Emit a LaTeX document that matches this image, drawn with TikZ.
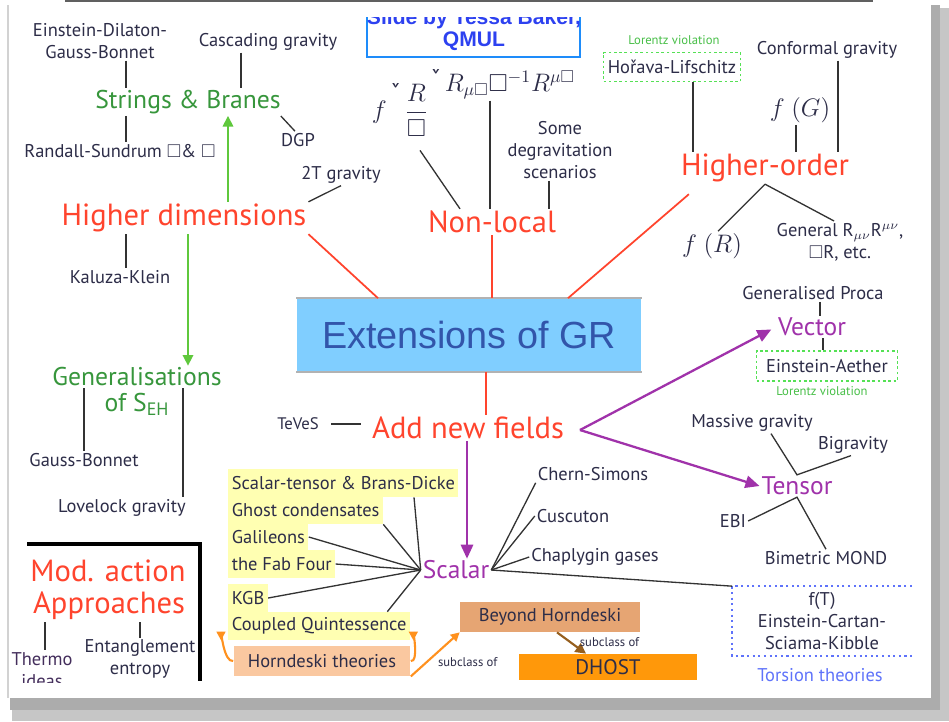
\documentclass[tikz,border=0pt]{standalone}
\usepackage{amsmath,amssymb}
\usepackage{fontspec}
\setmainfont{PT Sans}
\newfontfamily\arialfont{Liberation Sans}
\usetikzlibrary{arrows.meta,calc}

\definecolor{inktext}{RGB}{45,45,72}
\definecolor{catred}{RGB}{255,68,45}
\definecolor{catgreen}{RGB}{55,150,60}
\definecolor{arrowgreen}{RGB}{95,200,60}
\definecolor{lvgreen}{RGB}{85,225,85}
\definecolor{catpurple}{RGB}{160,50,170}
\definecolor{grbox}{RGB}{128,206,255}
\definecolor{grtext}{RGB}{50,85,170}
\definecolor{hlyellow}{RGB}{255,255,178}
\definecolor{hornpeach}{RGB}{250,200,160}
\definecolor{beyondtan}{RGB}{230,165,115}
\definecolor{dhostorange}{RGB}{255,152,10}
\definecolor{horngold}{RGB}{255,145,30}
\definecolor{dhostbrown}{RGB}{150,95,30}
\definecolor{slideblue}{RGB}{30,140,250}
\definecolor{creditblue}{RGB}{45,65,240}
\definecolor{torsblue}{RGB}{95,115,250}

\begin{document}
\begin{tikzpicture}[x=0.02cm,y=-0.02cm,
  small/.style={font=\fontsize{10.5}{12.5}\selectfont,text=inktext,inner sep=1pt,align=center},
  tiny/.style={font=\fontsize{7.2}{8.5}\selectfont,inner sep=1pt},
  redcat/.style={font=\fontsize{17.4}{20}\selectfont,text=catred,inner sep=1pt},
  greencat/.style={font=\fontsize{14.6}{17}\selectfont,text=catgreen,inner sep=1pt},
  purplecat/.style={font=\fontsize{14.5}{17}\selectfont,text=catpurple,inner sep=1pt},
  mathlabel/.style={font=\fontsize{14}{16}\selectfont,text=inktext,inner sep=1pt},
  hilite/.style={small,anchor=west,fill=hlyellow,minimum height=0.56cm,inner xsep=2pt},
  lvbox/.style={small,draw=lvgreen,line width=1pt,dash pattern=on 1.5pt off 1.5pt},
  link/.style={draw=black!80,line width=0.75pt},
  redlink/.style={draw=catred,line width=1pt},
  greenarrow/.style={draw=arrowgreen,line width=0.9pt,-{Triangle[length=6pt,width=6pt]}},
  purplearrow/.style={draw=catpurple,line width=1.3pt,-{Triangle[length=8pt,width=7pt]}},
  hornarrow/.style={draw=horngold,line width=1.2pt,-{Triangle[length=5pt,width=5pt]}},
]
\useasboundingbox (0,0) rectangle (949,721);
\fill[white] (0,0) rectangle (949,721);
\fill[gray!45] (12,8) rectangle (949,721);
\fill[gray!65] (10,5) rectangle (940,710);
\fill[white] (8,3) rectangle (931,698);
\draw[gray!35,line width=1pt] (8,5) -- (8,698);
\draw[gray!75!black,line width=1.2pt] (65,1) -- (873,1);

\begin{scope}
\clip (0,17) rectangle (949,682);

% credit box
\draw[slideblue,line width=1.6pt] (367,10) -- (367,57) -- (580,57) -- (580,10);
\node[font=\arialfont\bfseries\fontsize{12}{13}\selectfont,text=creditblue,align=center] (credit) at (474,30) {Slide by Tessa Baker,\\QMUL};

% higher dimensions
\node[small] (edgb) at (100,41) {Einstein-Dilaton-\\Gauss-Bonnet};
\node[small] (cascade) at (268,42) {Cascading gravity};
\node[greencat] (strings) at (188,102) {Strings \& Branes};
\node[small] (randall) at (120,151) {Randall-Sundrum $\square$\& $\square$};
\node[small] (dgp) at (298,140) {DGP};
\node[small] (twoT) at (341,175) {2T gravity};
\node[redcat] (higherdim) at (184,218) {Higher dimensions};
\node[small] (kaluza) at (120,277) {Kaluza-Klein};
\node[greencat] (gen) at (137,377) {Generalisations};
\node[greencat] (genof) at (137,404) {of S\textsubscript{EH}};
\node[small] (gauss) at (84,460) {Gauss-Bonnet};
\node[small] (lovelock) at (122,508) {Lovelock gravity};
\draw[link] (126,0 |- edgb.south) -- (126,0 |- strings.north);
\draw[link] (241,0 |- cascade.south) -- (241,0 |- strings.north);
\draw[link] (126,0 |- strings.south) -- (126,0 |- randall.north);
\draw[link] ($(strings.south east)+(-2,0)$) -- ($(dgp.north)+(-3,0)$);
\draw[link] (twoT.south) -- (higherdim.north east);
\draw[link] (126,0 |- higherdim.south) -- (126,0 |- kaluza.north);
\draw[greenarrow] (228,0 |- higherdim.north) -- (228,0 |- strings.south);
\draw[greenarrow] (188,0 |- higherdim.south) -- (188,0 |- gen.north);
\draw[link] (84,0 |- gen.south) -- (84,0 |- gauss.north);
\draw[link] (183,0 |- gen.south) -- (183,0 |- lovelock.north);

% non-local
\node[mathlabel] (nlfrac) at (400,110) {$f$\raisebox{1.4ex}{\,ˇ\,}$\dfrac{R}{\square}$};
\node[mathlabel] (nlrest) at (503,84) {\raisebox{0.3ex}{ˇ}\,$R_{\mu\square}\square^{-1}R^{\mu\square}$};
\node[small] (degrav) at (560,150) {Some\\degravitation\\scenarios};
\node[redcat] (nonlocal) at (492,222) {Non-local};
\draw[link] ($(nlfrac.south)+(20,12)$) -- ($(nonlocal.north)+(-32,0)$);
\draw[link] (490,0 |- nlrest.south) -- (490,0 |- nonlocal.north);
\draw[link] (549,0 |- degrav.south) -- (549,0 |- nonlocal.north);

% higher-order
\node[tiny,text=lvgreen!85!black] (lvtop) at (674,40) {Lorentz violation};
\node[lvbox,minimum width=2.74cm,minimum height=0.58cm] (horava) at (672,67) {Hořava-Lifschitz};
\node[small] (conformal) at (827,50) {Conformal gravity};
\node[mathlabel] (fG) at (800,110) {$f\ (G)$};
\node[redcat] (higherorder) at (765,168) {Higher-order};
\node[mathlabel] (fR) at (712,246) {$f\ (R)$};
\node[small] (general) at (840,242) {General R$_{\mu\nu}$R$^{\mu\nu}$,\\$\square$R, etc.};
\draw[link] (693,0 |- horava.south) -- (693,0 |- higherorder.north);
\draw[link] (796,0 |- fG.south) -- (796,0 |- higherorder.north);
\draw[link] (838,0 |- conformal.south) -- (838,0 |- higherorder.north);
\draw[link] (higherorder.south) -- ($(fR.north)+(6,0)$);
\draw[link] (higherorder.south) -- ($(general.north)+(-6,0)$);

% centre
\node[fill=grbox,minimum width=6.9cm,minimum height=1.46cm,font=\arialfont\fontsize{21.5}{24}\selectfont,text=grtext] (ext) at (469,335) {Extensions of GR};
\draw[gray!60,line width=0.8pt] (ext.north west) -- (ext.north east) (ext.south west) -- (ext.south east);
\draw[redlink] (higherdim.south east) -- (378,0 |- ext.north);
\draw[redlink] (nonlocal.south) -- (nonlocal.south |- ext.north);
\draw[redlink] ($(higherorder.south west)+(10,10)$) -- (568,0 |- ext.north);

\node[redcat] (addnew) at (468,428) {Add new fields};
\node[small,font=\fontsize{9.5}{11}\selectfont] (teves) at (298,424) {TeVeS};
\draw[redlink] (486,0 |- ext.south) -- (486,0 |- addnew.north);
\draw[link,shorten <=6pt,shorten >=5pt] (teves.east) -- (teves.east -| addnew.west);

% vector and tensor
\node[small] (proca) at (813,293) {Generalised Proca};
\node[purplecat] (vector) at (812,327) {Vector};
\node[lvbox,minimum width=2.82cm,minimum height=0.6cm] (aether) at (827,366) {Einstein-Aether};
\node[tiny,text=lvgreen!85!black] (lvside) at (822,391) {Lorentz violation};
\node[small] (massive) at (752,423) {Massive gravity};
\node[small] (bigravity) at (853,445) {Bigravity};
\node[purplecat] (tensor) at (797,486) {Tensor};
\node[small] (ebi) at (733,521) {EBI};
\node[small] (bimond) at (826,558) {Bimetric MOND};
\draw[purplearrow,shorten >=3pt] ($(addnew.east)+(14,2)$) -- (vector.west);
\draw[purplearrow] ($(addnew.east)+(14,2)$) -- (tensor.west);
\draw[link] (820,0 |- proca.south) -- (820,0 |- vector.north);
\draw[link] (823,0 |- vector.south) -- (823,0 |- aether.north);
\draw[link] ($(massive.south)+(19,0)$) -- (tensor.north) -- ($(bigravity.south)+(-2,0)$);
\draw[link] (ebi.east) -- (tensor.south) -- (bimond.north);

% scalar
\node[hilite] (st) at (228,483) {Scalar-tensor \& Brans-Dicke};
\node[hilite] (ghost) at (228,510) {Ghost condensates};
\node[hilite] (galileons) at (228,537) {Galileons};
\node[hilite] (fab) at (228,564) {the Fab Four};
\node[hilite] (kgb) at (228,598) {KGB};
\node[hilite] (coupled) at (228,626) {Coupled Quintessence};
\node[purplecat] (scalar) at (456,570) {Scalar};
\draw[purplearrow] (467,0 |- addnew.south) -- (467,0 |- scalar.north);
\foreach \endpt in {ghost.south east,galileons.east,fab.east,kgb.east}
  \draw[link] (scalar.west) -- (\endpt);
\draw[link] (scalar.west) -- (414,0 |- st.south);
\draw[link] (scalar.west) -- ($(coupled.north east)+(-23,0)$);

\node[small] (chern) at (593,474) {Chern-Simons};
\node[small] (cuscuton) at (573,516) {Cuscuton};
\node[small] (chaplygin) at (595,557) {Chaplygin gases};
\node[small,minimum width=3.58cm,minimum height=1.38cm] (torsion) at (822,621) {f(T)\\Einstein-Cartan-\\Sciama-Kibble};
\draw[torsblue,line width=1pt,dash pattern=on 1.2pt off 2pt] (torsion.north east) -- (torsion.north west) -- (torsion.south west) -- (torsion.south east);
\node[small,text=torsblue] (torslabel) at (820,675) {Torsion theories};
\foreach \endpt in {chern.south west,cuscuton.west,chaplygin.west,torsion.north west}
  \draw[link] (scalar.east) -- (\endpt);

% horndeski family
\node[small,fill=hornpeach,minimum width=3.54cm,minimum height=0.6cm] (horn) at (322,661) {Horndeski theories};
\node[small,fill=beyondtan,minimum width=3.6cm,minimum height=0.6cm] (beyond) at (550,617) {Beyond Horndeski};
\node[small,fill=dhostorange,minimum width=3.56cm,minimum height=0.52cm,font=\fontsize{12}{14}\selectfont] (dhost) at (608,667) {DHOST};
\draw[hornarrow] (horn.west) to[out=190,in=90] ($(coupled.south west)+(-7,0)$);
\draw[hornarrow] (horn.east) to[out=-10,in=90] ($(coupled.south east)+(3,0)$);
\draw[hornarrow] (horn.south east) -- node[tiny,text=inktext,pos=0.5,anchor=north west] (sub1) {subclass of} (beyond.south west);
\draw[dhostbrown,line width=1.2pt,-{Triangle[length=6pt,width=6pt]}] ($(beyond.south)+(7,0)$) -- node[tiny,text=inktext,right=4pt,pos=0.45] (sub2) {subclass of} ($(dhost.north)+(-22,0)$);

% approaches
\draw[black,line width=2.2pt] (27,544) -- (200,544) -- (200,681);
\node[redcat] (modaction) at (108,571) {Mod. action};
\node[redcat] (approaches) at (109,606) {Approaches};
\node[small,text=inktext!80!catpurple] (thermo) at (42,670) {Thermo\\ideas};
\node[small] (entangle) at (140,659) {Entanglement\\entropy};
\draw[link] (45,0 |- approaches.south) -- (45,0 |- thermo.north);
\draw[link] (140,0 |- approaches.south) -- (140,0 |- entangle.north);
\end{scope}
\end{tikzpicture}
\end{document}
